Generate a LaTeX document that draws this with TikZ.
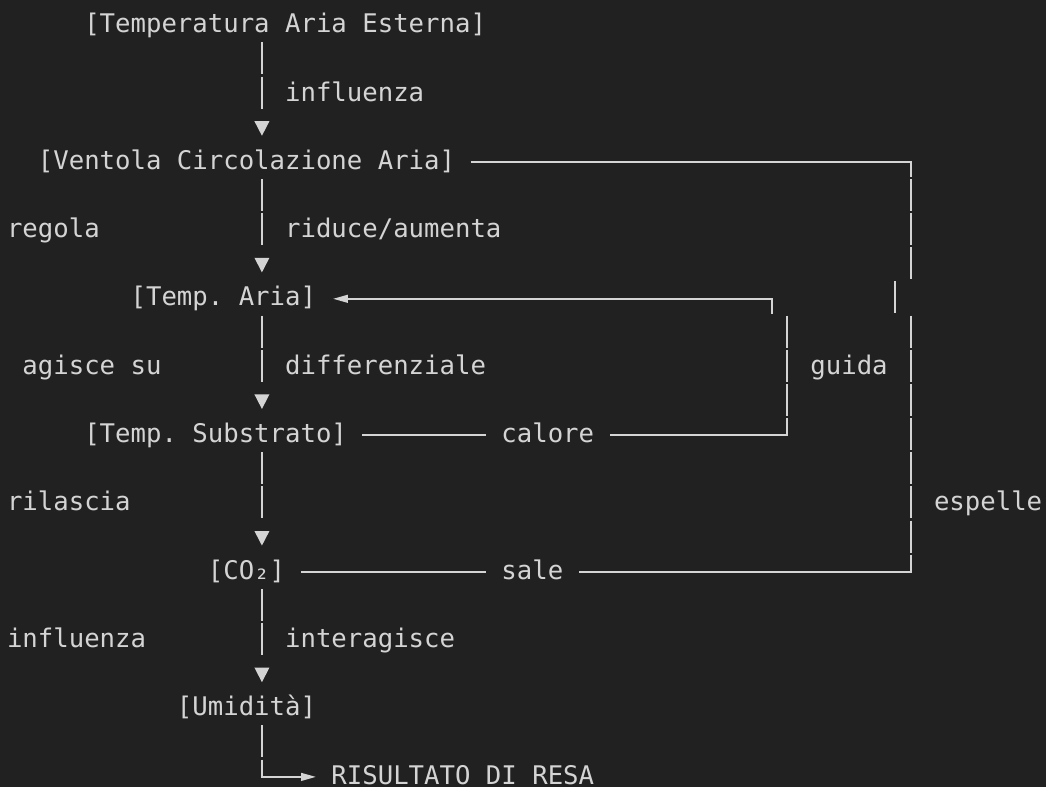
\documentclass[tikz,border=0pt]{standalone}
\usepackage{fontspec}
\setmonofont{DejaVu Sans Mono}
\usetikzlibrary{arrows.meta}
\definecolor{bg}{HTML}{212121}
\definecolor{fg}{HTML}{D4D4D4}
\begin{document}
\begin{tikzpicture}[x=11.5875pt, y=-25.6125pt,
  txt/.style={anchor=base west, inner sep=0pt, outer sep=0pt, text=fg,
    font=\ttfamily\fontsize{19.25pt}{19.25pt}\selectfont},
  hl/.style={draw=fg, line width=1.4pt},
  vbar/.style={draw=fg, line width=1.4pt, dash pattern=on 24pt off 1.6125pt},
  vconn/.style={draw=fg, line width=1.4pt,
    dash pattern=on 24pt off 1.6125pt on 24pt off 200pt,
    -{Triangle[length=10.9pt,width=11.25pt,line width=0pt]}},
  ptr/.style={-{Triangle[length=10.9pt,width=6.2pt,line width=0pt]}}
]
% background and bounds
\fill[bg] (-0.4531,-0.7496) rectangle (67.249,22.296);
\useasboundingbox (-0.4531,-0.7496) rectangle (67.249,22.296);

% nodes
\node[txt] (tae) at (5,0.2108) {[Temperatura Aria Esterna]};
\node[txt] (vca) at (2,4.2108) {[Ventola Circolazione Aria]};
\node[txt] (ta)  at (8,8.2108) {[Temp. Aria]};
\node[txt] (ts)  at (5,12.2108) {[Temp. Substrato]};
\node[txt] (co2) at (13,16.2108) {[CO₂]};
\node[txt] (um)  at (11,20.2108) {[Umidità]};
\node[txt, text depth=0pt] (res) at (21,22.2108) {RISULTATO DI RESA};

% labels
\node[txt] (lInfl1) at (18,2.2108) {influenza};
\node[txt] (lReg)   at (0,6.2108) {regola};
\node[txt] (lRid)   at (18,6.2108) {riduce/aumenta};
\node[txt] (lAg)    at (1,10.2108) {agisce su};
\node[txt] (lDiff)  at (18,10.2108) {differenziale};
\node[txt] (lGuida) at (52,10.2108) {guida};
\node[txt] (lCal)   at (32,12.2108) {calore};
\node[txt] (lRil)   at (0,14.2108) {rilascia};
\node[txt] (lEsp)   at (60,14.2108) {espelle};
\node[txt] (lSale)  at (32,16.2108) {sale};
\node[txt] (lInfl2) at (0,18.2108) {influenza};
\node[txt] (lInt)   at (18,18.2108) {interagisce};

% connector end points
\coordinate (c1s) at (16.5,0.4934);  \coordinate (c1e) at (16.5,3.2255);
\coordinate (c2s) at (16.5,4.4934);  \coordinate (c2e) at (16.5,7.2255);
\coordinate (c3s) at (16.5,8.4934);  \coordinate (c3e) at (16.5,11.2255);
\coordinate (c4s) at (16.5,12.4934); \coordinate (c4e) at (16.5,15.2255);
\coordinate (c5s) at (16.5,16.4934); \coordinate (c5e) at (16.5,19.2255);
\coordinate (c6s) at (16.5,20.4934); \coordinate (c6e) at (19.98,22);

% main vertical chain
\draw[vconn] (c1s) -- (c1e);
\draw[vconn] (c2s) -- (c2e);
\draw[vconn] (c3s) -- (c3e);
\draw[vconn] (c4s) -- (c4e);
\draw[vconn] (c5s) -- (c5e);
\draw[hl, ptr, dash pattern=on 24pt off 1.6125pt on 300pt] (c6s) |- (c6e);

% outer loop: CO2 -- sale -- up to Ventola (guida / espelle)
\coordinate (o1) at (30,4);      \coordinate (o2) at (58.5,4.4305);
\coordinate (o3) at (58.5,4.4934); \coordinate (o4) at (58.5,7.4305);
\coordinate (o5) at (57.5,7.4934); \coordinate (o6) at (57.5,8.4305);
\coordinate (o7) at (58.5,8.4934); \coordinate (o8) at (58.5,15.4305);
\coordinate (o9) at (58.5,15.4934); \coordinate (o10) at (37,16);
\coordinate (o11) at (31,16);    \coordinate (o12) at (19,16);
\draw[hl] (o1) -| (o2);
\draw[vbar] (o3) -- (o4);
\draw[vbar] (o5) -- (o6);
\draw[vbar] (o7) -- (o8);
\draw[hl] (o9) |- (o10);
\draw[hl] (o11) -- (o12);

% inner loop: Temp. Substrato -- calore -- up to Temp. Aria
\coordinate (i1) at (49.5,8.4305);  \coordinate (i2) at (21.12,8);
\coordinate (i3) at (50.5,8.4934);  \coordinate (i4) at (50.5,11.4305);
\coordinate (i5) at (50.5,11.4934); \coordinate (i6) at (39,12);
\coordinate (i7) at (31,12);        \coordinate (i8) at (23,12);
\draw[hl, ptr] (i1) |- (i2);
\draw[vbar] (i3) -- (i4);
\draw[hl] (i5) |- (i6);
\draw[hl] (i7) -- (i8);
\end{tikzpicture}
\end{document}
